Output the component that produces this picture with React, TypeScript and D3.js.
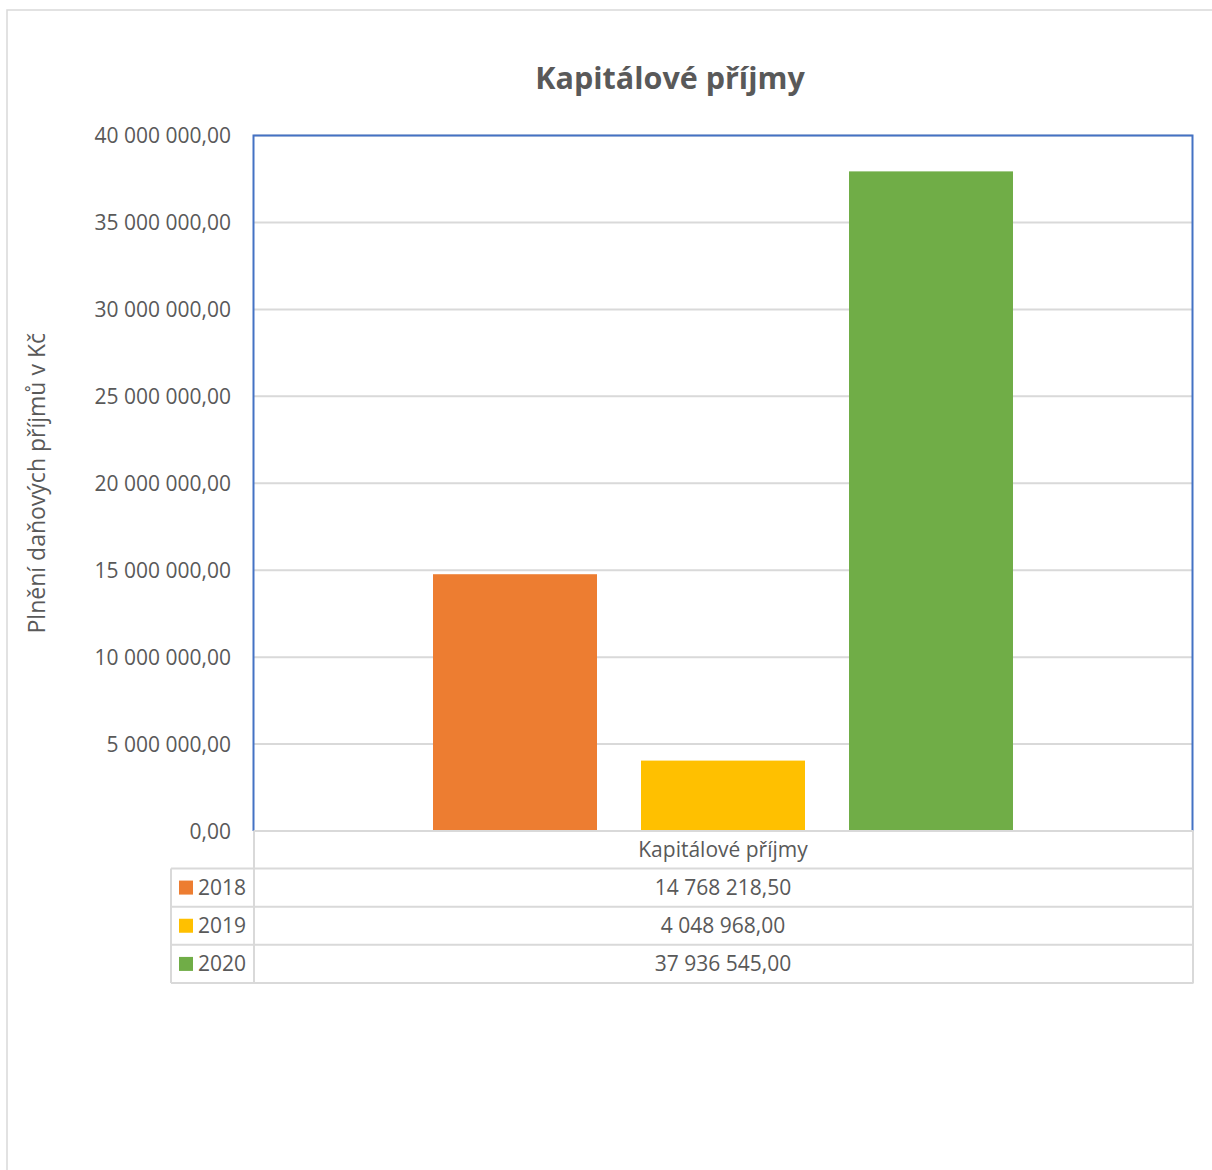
import React from "react";
import * as d3 from "d3";

const title = "Kapitálové příjmy";
const category = "Kapitálové příjmy";
const yAxisTitle = "Plnění daňových příjmů v Kč";
const years = ["2018", "2019", "2020"];
const values = [14768218.5, 4048968.0, 37936545.0];
const colors = ["#ED7D31", "#FFC000", "#70AD47"];
const yMax = 40000000;
const yStep = 5000000;

const W = 1212;
const H = 1170;
const plot = { left: 253.5, right: 1192.5, top: 135.5, bottom: 831 };
const tableLeft = 171;
const textColor = "#595959";
const gridColor = "#D9D9D9";
const font = "'Open Sans', 'Noto Sans', sans-serif";
const fs = 21;

const cz = d3.formatLocale({ decimal: ",", thousands: " ", grouping: [3], currency: ["", " Kč"] });
const fmt = cz.format(",.2f");

export default function App() {
  const y = d3.scaleLinear().domain([0, yMax]).range([plot.bottom, plot.top]);
  const x = d3
    .scaleBand<string>()
    .domain(years)
    .range([plot.left, plot.right])
    .paddingInner(44 / 208)
    .paddingOuter(0.863);
  const ticks = d3.range(0, yMax + 1, yStep);
  const cx = (plot.left + plot.right) / 2;
  const headerTop = plot.bottom;
  const headerBottom = 868.5;
  const tableBottom = 983;
  const rh = (tableBottom - headerBottom) / years.length;
  const rowTops = years.map((_, i) => headerBottom + i * rh);

  return (
    <svg
      width={W}
      height={H}
      style={{ position: "absolute", left: 0, top: 0, background: "#fff", fontFamily: font }}
    >
      <rect x={0} y={0} width={W} height={H} fill="#fff" />
      {/* outer chart border */}
      <rect x={7} y={10} width={W + 20} height={H + 20} fill="none" stroke={gridColor} strokeWidth={1.5} />

      <text x={670} y={89} textAnchor="middle" fontSize={30.5} fontWeight={700} fill={textColor}>
        {title}
      </text>

      {/* gridlines */}
      {ticks.map((t) => (
        <line key={"g" + t} x1={plot.left} x2={plot.right} y1={y(t)} y2={y(t)} stroke={gridColor} strokeWidth={2} />
      ))}

      {/* tick labels */}
      {ticks.map((t) => (
        <text key={"t" + t} x={231} y={y(t) + 7.5} textAnchor="end" fontSize={fs} fill={textColor}>
          {fmt(t)}
        </text>
      ))}

      {/* axis title */}
      <text
        transform={`translate(45, ${(plot.top + plot.bottom) / 2}) rotate(-90)`}
        textAnchor="middle"
        fontSize={23}
        fill={textColor}
      >
        {yAxisTitle}
      </text>

      {/* bars */}
      {years.map((yr, i) => (
        <rect
          key={yr}
          x={x(yr)}
          y={y(values[i])}
          width={x.bandwidth()}
          height={y(0) - y(values[i])}
          fill={colors[i]}
        />
      ))}

      {/* plot border (blue) */}
      <path
        d={`M${plot.left},${plot.bottom} V${plot.top} H${plot.right} V${plot.bottom}`}
        fill="none"
        stroke="#4472C4"
        strokeWidth={2}
      />

      {/* data table */}
      <g stroke={gridColor} strokeWidth={2} fill="none">
        <line x1={plot.left} x2={plot.right + 1} y1={headerTop} y2={headerTop} />
        <line x1={tableLeft} x2={plot.right + 1} y1={headerBottom} y2={headerBottom} />
        {rowTops.map((rt, i) => (
          <line key={"r" + i} x1={tableLeft} x2={plot.right + 1} y1={rt + rh} y2={rt + rh} />
        ))}
        <line x1={tableLeft} x2={tableLeft} y1={headerBottom} y2={tableBottom} />
        <line x1={plot.left + 0.5} x2={plot.left + 0.5} y1={headerTop} y2={tableBottom} />
        <line x1={plot.right + 0.5} x2={plot.right + 0.5} y1={headerTop} y2={tableBottom} />
      </g>
      <text x={cx} y={(headerTop + headerBottom) / 2 + 7.5} textAnchor="middle" fontSize={fs} fill={textColor}>
        {category}
      </text>
      {years.map((yr, i) => {
        const mid = rowTops[i] + rh / 2;
        return (
          <g key={"row" + yr}>
            <rect x={179} y={mid - 7} width={14} height={14} fill={colors[i]} />
            <text x={198} y={mid + 7.5} fontSize={fs} fill={textColor}>
              {yr}
            </text>
            <text x={cx} y={mid + 7.5} textAnchor="middle" fontSize={fs} fill={textColor}>
              {fmt(values[i])}
            </text>
          </g>
        );
      })}
    </svg>
  );
}
